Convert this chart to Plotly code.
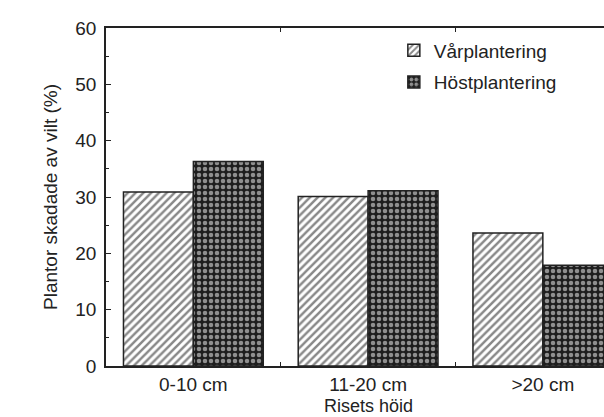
import plotly.graph_objects as go

categories = ["0-10 cm", "11-20 cm", ">20 cm"]
var_values = [30.9, 30.1, 23.6]
host_values = [36.3, 31.1, 17.9]
series_names = ["Vårplantering", "Höstplantering"]
y_ticks = [0, 10, 20, 30, 40, 50, 60]

FONT = "Liberation Sans, Arial, sans-serif"
INK = "#222222"

fig = go.Figure()
fig.add_trace(go.Bar(
    x=categories, y=var_values, name=series_names[0], legendgroup="a",
    marker=dict(color="white", line=dict(color=INK, width=1.5),
                pattern=dict(shape="/", fgcolor="#111111", bgcolor="white", size=5.5, solidity=0.45)),
))
fig.add_trace(go.Bar(
    x=categories, y=host_values, name=series_names[1], legendgroup="b",
    marker=dict(color="#1e1e1e", line=dict(color=INK, width=1.5),
                pattern=dict(shape=".", fgcolor="white", bgcolor="#1e1e1e", size=6, solidity=0.45)),
))

fig.update_layout(
    width=604, height=417,
    margin=dict(l=106, r=0, t=28, b=51),
    paper_bgcolor="white", plot_bgcolor="white",
    font=dict(family=FONT, size=19, color=INK),
    barmode="group", bargap=0.2, bargroupgap=0,
    showlegend=True,
    legend=dict(x=0.578, y=0.99, xanchor="left", yanchor="top",
                font=dict(size=19), tracegroupgap=4, bgcolor="rgba(0,0,0,0)"),
    xaxis=dict(
        range=[-0.5, 2.35], showline=True, linecolor=INK, linewidth=1.5,
        mirror="ticks", ticks="inside", tickson="boundaries", ticklen=4,
        tickcolor=INK, showgrid=False, tickfont=dict(size=19),
    ),
    yaxis=dict(
        range=[0, 60], tickvals=y_ticks, showline=True, linecolor=INK, linewidth=1.5,
        ticks="inside", ticklen=5, tickcolor=INK, showgrid=False, zeroline=False,
        minor=dict(ticks="inside", ticklen=3, dtick=5, tickcolor=INK),
        tickfont=dict(size=19), ticklabelstandoff=4,
        title=dict(text="Plantor skadade av vilt (%)", font=dict(size=19), standoff=13),
    ),
)

fig.add_annotation(x=categories[1], xref="x", y=-0.082, yref="paper",
                   text="Risets höid", showarrow=False, yanchor="top",
                   font=dict(size=18, family=FONT, color=INK))

fig.write_html("out.html", config={"displayModeBar": False},
               post_script="document.body.style.margin='0';")
